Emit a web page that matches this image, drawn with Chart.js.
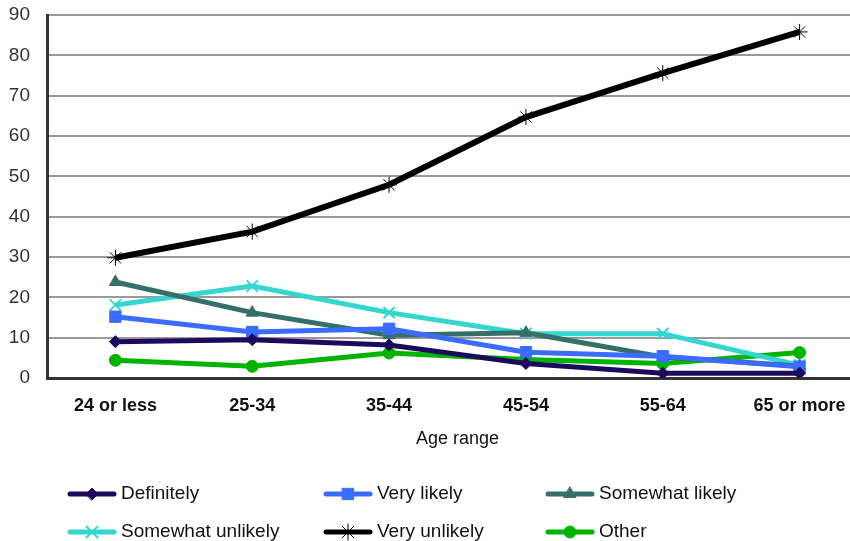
<!DOCTYPE html>
<html>
<head>
<meta charset="utf-8">
<script src="https://cdn.jsdelivr.net/npm/chart.js@4/dist/chart.umd.min.js"></script>
<style>
    html, body { margin: 0; padding: 0; background: #fff; overflow: hidden; }
    #wrap { width: 868px; height: 541px; }
</style>
</head>
<body>
<div id="wrap"><canvas id="grafico" width="868" height="541"></canvas></div>
<script>
// Dados
const faixas = ["24 or less", "25-34", "35-44", "45-54", "55-64", "65 or more"];
const definitely = [9, 9.5, 8.2, 3.6, 1.2, 1.2];
const veryLikely = [15.2, 11.4, 12.2, 6.4, 5.4, 2.8];
const somewhatLikely = [23.8, 16.2, 10.6, 11.2, 5.2, 3];
const somewhatUnlikely = [18.1, 22.8, 16.2, 11, 11, 3.2];
const veryUnlikely = [29.8, 36.3, 47.9, 64.7, 75.6, 85.8];
const other = [4.4, 2.9, 6.2, 4.6, 3.6, 6.3];
const yTicks = [0, 10, 20, 30, 40, 50, 60, 70, 80, 90];

const fonte = "'Liberation Sans', Arial, sans-serif";

const series = [
    { label: "Definitely", data: definitely, cor: "#1c0a5c", ponto: "rectRot", raio: 6, borda: 1, linha: 5 },
    { label: "Very likely", data: veryLikely, cor: "#3a6cff", ponto: "rect", raio: 8, borda: 1, linha: 5 },
    { label: "Somewhat likely", data: somewhatLikely, cor: "#366e69", ponto: "triangle", raio: 7, borda: 1, linha: 5 },
    { label: "Somewhat unlikely", data: somewhatUnlikely, cor: "#35d6d0", ponto: "crossRot", raio: 8, borda: 2, linha: 5 },
    { label: "Very unlikely", data: veryUnlikely, cor: "#000000", ponto: "star", raio: 8, borda: 1, linha: 6 },
    { label: "Other", data: other, cor: "#00b400", ponto: "circle", raio: 6, borda: 1, linha: 5 }
];

// Legenda desenhada à mão, em 3 colunas
const legendaPlugin = {
    id: 'legendaGrade',
    afterDraw(chart) {
        const ctx = chart.ctx;
        const colunas = [70, 326, 548];
        const linhas = [494, 532];
        ctx.save();
        chart.data.datasets.forEach((ds, i) => {
            const x = colunas[i % 3];
            const y = linhas[Math.floor(i / 3)];
            ctx.strokeStyle = ds.borderColor;
            ctx.lineWidth = 5;
            ctx.lineCap = 'round';
            ctx.beginPath();
            ctx.moveTo(x, y);
            ctx.lineTo(x + 44, y);
            ctx.stroke();
            ctx.fillStyle = ds.pointBackgroundColor;
            ctx.strokeStyle = ds.pointBorderColor;
            ctx.lineWidth = ds.pointBorderWidth;
            Chart.helpers.drawPoint(ctx, {
                pointStyle: ds.pointStyle,
                radius: ds.pointRadius,
                rotation: 0,
                borderWidth: ds.pointBorderWidth
            }, x + 22, y);
            ctx.fillStyle = '#111';
            ctx.font = '19px ' + fonte;
            ctx.textAlign = 'left';
            ctx.textBaseline = 'middle';
            ctx.fillText(ds.label, x + 51, y);
        });
        ctx.restore();
    }
};

new Chart(document.getElementById('grafico'), {
    type: 'line',
    data: {
        labels: faixas,
        datasets: series.map(s => ({
            label: s.label,
            data: s.data,
            borderColor: s.cor,
            backgroundColor: s.cor,
            borderWidth: s.linha,
            pointStyle: s.ponto,
            pointRadius: s.raio,
            pointBackgroundColor: s.cor,
            pointBorderColor: s.cor,
            pointBorderWidth: s.borda,
            tension: 0,
            fill: false
        }))
    },
    options: {
        responsive: false,
        animation: false,
        layout: { autoPadding: false, padding: { top: 15, left: 0, right: 0, bottom: 91 } },
        plugins: {
            legend: { display: false },
            tooltip: { enabled: false }
        },
        scales: {
            x: {
                offset: true,
                afterFit(scale) {
                    scale.height = 72;
                    scale.paddingLeft = 0;
                    scale.paddingRight = 0;
                },
                grid: { display: false, drawTicks: false },
                border: { display: true, color: '#333', width: 3 },
                ticks: {
                    padding: 17,
                    color: '#111',
                    font: { family: fonte, size: 18, weight: 'bold' }
                },
                title: {
                    display: true,
                    text: 'Age range',
                    color: '#111',
                    font: { family: fonte, size: 18 },
                    padding: { top: 11, bottom: 0 }
                }
            },
            y: {
                min: 0,
                max: 90,
                afterFit(scale) {
                    scale.width = 47;
                    scale.paddingTop = 0;
                    scale.paddingBottom = 0;
                },
                afterBuildTicks(scale) { scale.ticks = yTicks.map(v => ({ value: v })); },
                grid: { color: '#999', lineWidth: 2, drawTicks: false },
                border: { display: true, color: '#333', width: 3 },
                ticks: {
                    padding: 17,
                    color: '#333',
                    font: { family: fonte, size: 19 }
                }
            }
        }
    },
    plugins: [legendaPlugin]
});
</script>
</body>
</html>
